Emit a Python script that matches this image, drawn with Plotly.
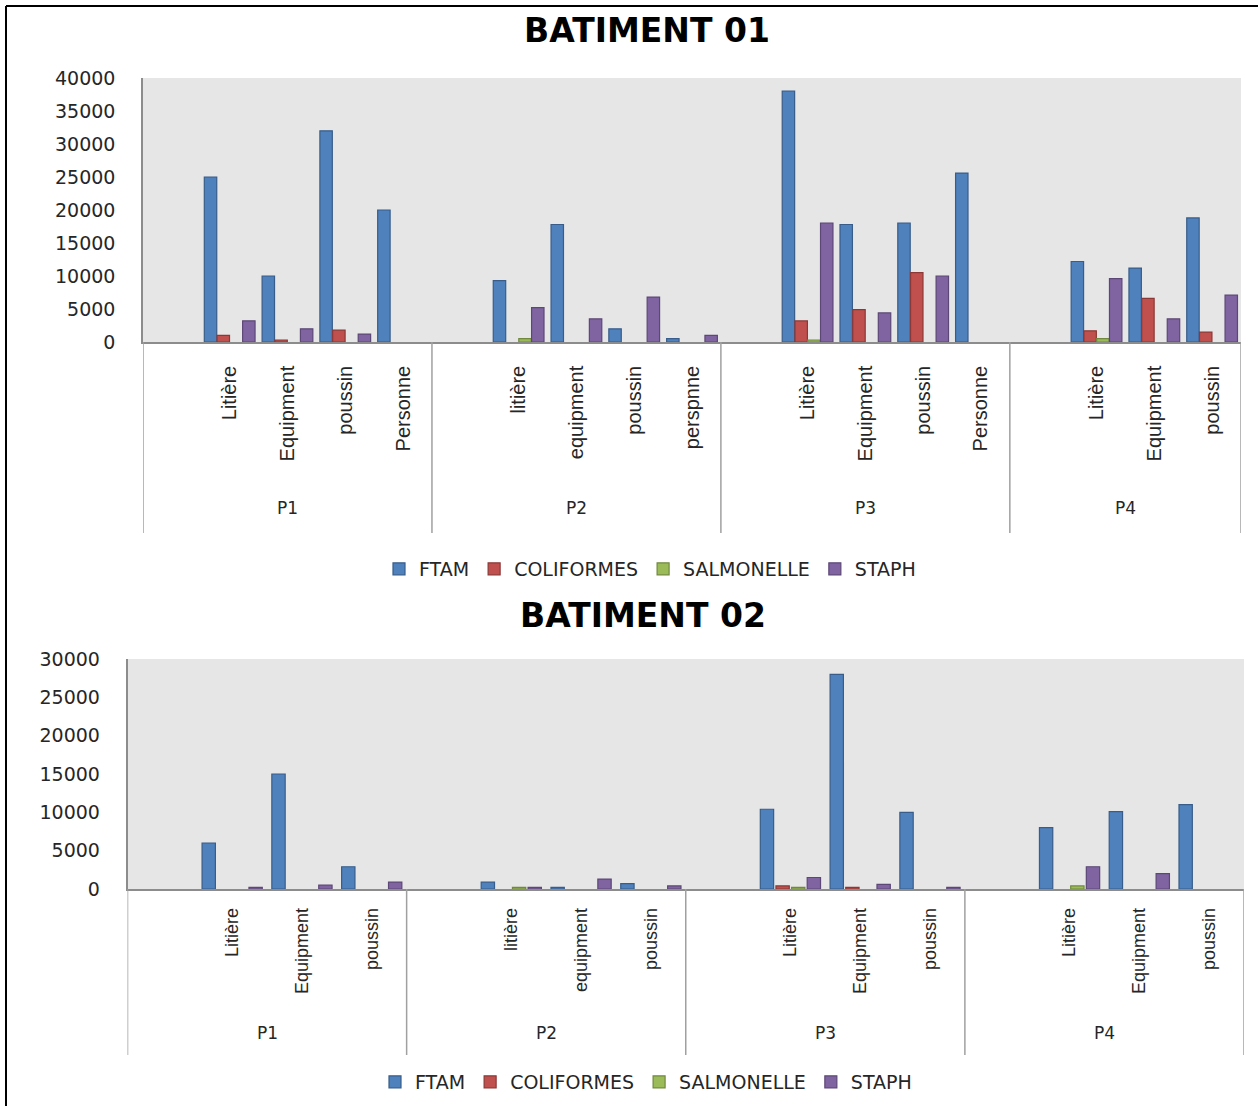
import plotly.graph_objects as go

# ---------------- data ----------------
series = ["FTAM", "COLIFORMES", "SALMONELLE", "STAPH"]
fill_colors = ["#4F81BD", "#C0504D", "#9BBB59", "#8064A2"]
edge_colors = ["#385D8A", "#8C3836", "#71893F", "#5C4776"]

# Bâtiment 01: each group opens with an unlabeled slot; None = empty cell
b1_groups = ["P1", "P2", "P3", "P4"]
b1_items = [
    ["", "Litière", "Equipment", "poussin", "Personne"],
    ["", "litière", "equipment", "poussin", "perspnne"],
    ["", "Litière", "Equipment", "poussin", "Personne"],
    ["", "Litière", "Equipment", "poussin"],
]
b1_ftam = [[None, 25000, 10000, 32000, 20000],
           [None, 9300, 17800, 2000, 500],
           [None, 38000, 17800, 18000, 25600],
           [None, 12200, 11200, 18800]]
b1_coli = [[None, 1000, 300, 1800, None],
           [None, None, None, None, None],
           [None, 3200, 4900, 10500, None],
           [None, 1700, 6600, 1500]]
b1_salm = [[None, None, None, None, None],
           [None, 500, None, None, None],
           [None, 300, None, None, None],
           [None, 500, None, None]]
b1_staph = [[None, 3200, 2000, 1200, None],
            [None, 5200, 3500, 6800, 1000],
            [None, 18000, 4400, 10000, None],
            [None, 9600, 3500, 7100]]

# Bâtiment 02
b2_groups = ["P1", "P2", "P3", "P4"]
b2_items = [
    ["", "Litière", "Equipment", "poussin"],
    ["", "litière", "equipment", "poussin"],
    ["", "Litière", "Equipment", "poussin"],
    ["", "Litière", "Equipment", "poussin"],
]
b2_ftam = [[None, 6000, 15000, 2900],
           [None, 900, 200, 700],
           [None, 10400, 28000, 10000],
           [None, 8000, 10100, 11000]]
b2_coli = [[None, None, None, None],
           [None, None, None, None],
           [None, 400, 200, None],
           [None, None, None, None]]
b2_salm = [[None, None, None, None],
           [None, 200, None, None],
           [None, 200, None, None],
           [None, 400, None, None]]
b2_staph = [[None, 200, 500, 900],
            [None, 200, 1300, 400],
            [None, 1500, 600, 200],
            [None, 2900, 2000, None]]

b1_ticks = [0, 5000, 10000, 15000, 20000, 25000, 30000, 35000, 40000]
b2_ticks = [0, 5000, 10000, 15000, 20000, 25000, 30000]

# ---------------- helpers ----------------
W, H = 1258, 1106
MT, MB = 20, 40          # spare room so nothing pushes the margins
TXT = "#262626"
AXIS_GREY = "#8C8C8C"


def px_x(v):
    return v / W


def px_y(v):
    return (H - MB - v) / (H - MT - MB)


def flatten(nested):
    return [v for grp in nested for v in grp]


def layout_positions(items):
    """Index of every slot plus the slot span of each group."""
    pos, spans, k = [], [], 0
    for grp in items:
        start = k
        for _ in grp:
            pos.append(k)
            k += 1
        spans.append((start, k - 1))
    return pos, spans


fig = go.Figure()

charts = [
    dict(items=b1_items, groups=b1_groups,
         values=[b1_ftam, b1_coli, b1_salm, b1_staph],
         xaxis="x", yaxis="y", legend="legend",
         bar_w=0.215, pitch=0.221),
    dict(items=b2_items, groups=b2_groups,
         values=[b2_ftam, b2_coli, b2_salm, b2_staph],
         xaxis="x2", yaxis="y2", legend="legend2",
         bar_w=0.191, pitch=0.224),
]

for ch in charts:
    pos, spans = layout_positions(ch["items"])
    ch["pos"], ch["spans"] = pos, spans
    for i, name in enumerate(series):
        offset = (i - 1.5) * ch["pitch"] - ch["bar_w"] / 2
        fig.add_trace(go.Bar(
            x=pos, y=flatten(ch["values"][i]), name=name,
            xaxis=ch["xaxis"], yaxis=ch["yaxis"], legend=ch["legend"],
            width=ch["bar_w"], offset=offset,
            marker=dict(color=fill_colors[i],
                        line=dict(color=edge_colors[i], width=1.2)),
            hoverinfo="x+y+name",
        ))

# axis frames in pixels
top_box = dict(x0=143, x1=1241, y0=78, y1=342, div_bottom=533, grp_label=508)
bot_box = dict(x0=127.5, x1=1244, y0=659, y1=889, div_bottom=1055, grp_label=1033)

common_x = dict(
    showgrid=False, zeroline=False, showline=True, linecolor=AXIS_GREY,
    linewidth=1.5, ticks="", tickangle=-90, automargin=False,
)
common_y = dict(
    showgrid=False, zeroline=False, showline=True, linecolor=AXIS_GREY,
    linewidth=1.5, ticks="", ticklabelstandoff=22, automargin=False,
    tickformat="d",
    tickfont=dict(family="DejaVu Sans", size=19, color=TXT),
)

c1, c2 = charts
fig.update_layout(
    xaxis=dict(common_x, domain=[px_x(top_box["x0"]), px_x(top_box["x1"])],
               range=[-0.5, len(c1["pos"]) - 0.5], anchor="y",
               tickmode="array", tickvals=c1["pos"],
               ticktext=flatten(b1_items), ticklabelstandoff=14,
               tickfont=dict(family="Liberation Sans", size=20, color=TXT)),
    yaxis=dict(common_y, domain=[px_y(top_box["y1"]), px_y(top_box["y0"])],
               range=[0, 40000], anchor="x", tickvals=b1_ticks),
    xaxis2=dict(common_x, domain=[px_x(bot_box["x0"]), px_x(bot_box["x1"])],
                range=[-0.5, len(c2["pos"]) - 0.5], anchor="y2",
                tickmode="array", tickvals=c2["pos"],
                ticktext=flatten(b2_items), ticklabelstandoff=10,
                tickfont=dict(family="Liberation Sans", size=18, color=TXT)),
    yaxis2=dict(common_y, domain=[px_y(bot_box["y1"]), px_y(bot_box["y0"])],
                range=[0, 30000], anchor="x2", tickvals=b2_ticks),
)

shapes, annotations = [], []
for ch, box, xr in [(c1, top_box, "x"), (c2, bot_box, "x2")]:
    # group dividers below the category axis
    edges = [s[0] - 0.5 for s in ch["spans"]] + [ch["spans"][-1][1] + 0.5]
    for e in edges:
        shapes.append(dict(type="line", xref=xr, yref="paper",
                           x0=e, x1=e, y0=px_y(box["y1"]), y1=px_y(box["div_bottom"]),
                           line=dict(color="#A0A0A0", width=1.5)))
    # group names
    for g, (a, b) in zip(ch["groups"], ch["spans"]):
        annotations.append(dict(xref=xr, yref="paper", x=(a + b) / 2,
                                y=px_y(box["grp_label"]), text=g, showarrow=False,
                                xanchor="center", yanchor="middle",
                                font=dict(family="DejaVu Sans", size=17, color=TXT)))

# chart titles
annotations.append(dict(xref="paper", yref="paper", x=px_x(647), y=px_y(30),
                        text="<b>BATIMENT 01</b>", showarrow=False,
                        xanchor="center", yanchor="middle",
                        font=dict(family="DejaVu Sans", size=33, color="#000000")))
annotations.append(dict(xref="paper", yref="paper", x=px_x(643), y=px_y(615),
                        text="<b>BATIMENT 02</b>", showarrow=False,
                        xanchor="center", yanchor="middle",
                        font=dict(family="DejaVu Sans", size=33, color="#000000")))

# outer frame (left and top edges)
shapes.append(dict(type="line", xref="paper", yref="paper",
                   x0=px_x(6), x1=1, y0=px_y(6), y1=px_y(6),
                   line=dict(color="#000000", width=2)))
shapes.append(dict(type="line", xref="paper", yref="paper",
                   x0=px_x(6), x1=px_x(6), y0=px_y(6), y1=px_y(H),
                   line=dict(color="#000000", width=2)))

legend_style = dict(orientation="h", xanchor="center", yanchor="middle",
                    font=dict(family="DejaVu Sans", size=19, color=TXT),
                    bgcolor="rgba(0,0,0,0)", itemwidth=30, tracegroupgap=0)

fig.update_layout(
    width=W, height=H,
    margin=dict(l=0, r=0, t=MT, b=MB, autoexpand=False),
    paper_bgcolor="#FFFFFF",
    plot_bgcolor="#E6E6E6",
    barmode="overlay",
    showlegend=True,
    legend=dict(legend_style, x=px_x(650), y=px_y(569)),
    legend2=dict(legend_style, x=px_x(646), y=px_y(1082)),
    shapes=shapes,
    annotations=annotations,
)

fig.write_html("out.html")
